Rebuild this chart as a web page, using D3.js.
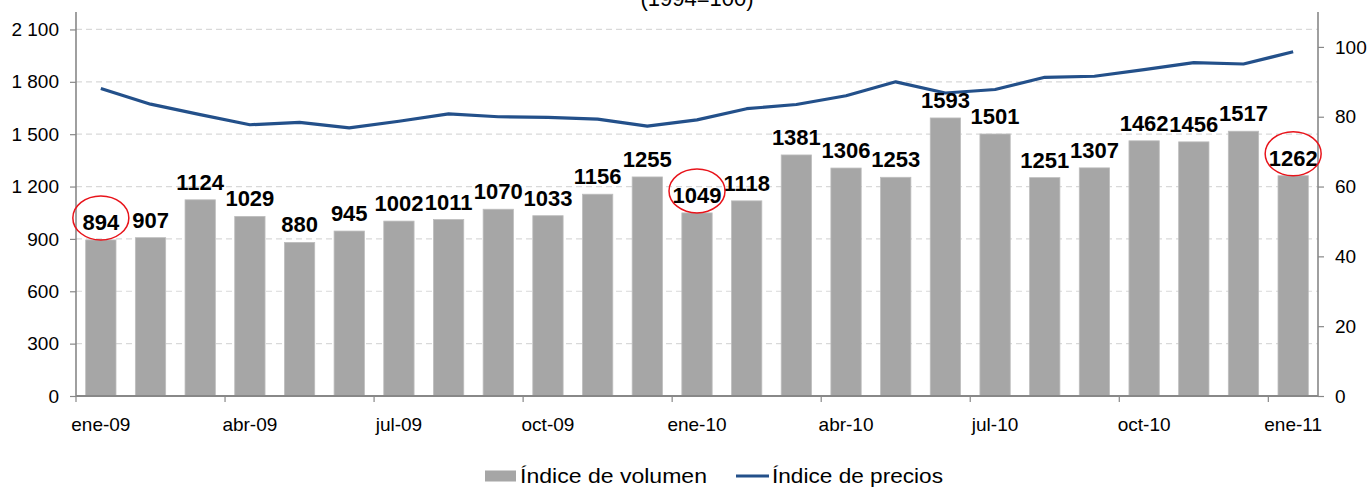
<!DOCTYPE html>
<html>
<head>
<meta charset="utf-8">
<script src="https://cdn.jsdelivr.net/npm/d3@7"></script>
<style>
  body { margin: 0; background: #fff; }
  svg { display: block; font-family: "Liberation Sans", Arial, sans-serif; }
</style>
</head>
<body>
<svg id="chart" width="1371" height="489"></svg>
<script>
// month labels, ene-09 .. ene-11
const months = [
  "ene-09", "feb-09", "mar-09", "abr-09", "may-09", "jun-09", "jul-09", "ago-09", "sep-09",
  "oct-09", "nov-09", "dic-09", "ene-10", "feb-10", "mar-10", "abr-10", "may-10", "jun-10",
  "jul-10", "ago-10", "sep-10", "oct-10", "nov-10", "dic-10", "ene-11"
];
// Índice de volumen (bars, left axis)
const volumen = [
  894, 907, 1124, 1029, 880, 945, 1002, 1011, 1070, 1033, 1156, 1255, 1049,
  1118, 1381, 1306, 1253, 1593, 1501, 1251, 1307, 1462, 1456, 1517, 1262
];
// Índice de precios (line, right axis)
const precios = [
  88.1, 83.6, 80.6, 77.7, 78.4, 76.8, 78.7, 80.8, 80.0, 79.8, 79.3, 77.3, 79.1,
  82.3, 83.5, 86.0, 90.0, 86.8, 87.8, 91.3, 91.6, 93.5, 95.5, 95.1, 98.6
];
const leftTicks = [0, 300, 600, 900, 1200, 1500, 1800, 2100];
const rightTicks = [0, 20, 40, 60, 80, 100];
const xLabels = ["ene-09", "abr-09", "jul-09", "oct-09", "ene-10", "abr-10", "jul-10", "oct-10", "ene-11"];
const circled = ["ene-09", "ene-10", "ene-11"];
const title = "(1994=100)";
const legendNames = ["Índice de volumen", "Índice de precios"];

const svg = d3.select("#chart");
const plotLeft = 76, plotRight = 1318, plotTop = 12, plotBottom = 396;

const x = d3.scaleBand()
  .domain(months)
  .range([plotLeft, plotRight])
  .paddingInner(0.39)
  .paddingOuter(0.195);
const yL = d3.scaleLinear().domain([0, 2200]).range([plotBottom, plotTop]);
const yR = d3.scaleLinear().domain([0, 110]).range([plotBottom, plotTop]);

const fmt = d3.formatLocale({ decimal: ",", thousands: " ", grouping: [3], currency: ["", ""] }).format(",");
const axisColor = "#888888";

// gridlines
svg.append("g")
  .selectAll("line")
  .data(leftTicks.filter(d => d > 0))
  .join("line")
  .attr("x1", plotLeft).attr("x2", plotRight)
  .attr("y1", d => yL(d)).attr("y2", d => yL(d))
  .attr("stroke", "#d9d9d9")
  .attr("stroke-width", 1.2)
  .attr("stroke-dasharray", "6,4");

// bars
svg.append("g")
  .selectAll("rect")
  .data(months)
  .join("rect")
  .attr("x", d => x(d))
  .attr("y", (d, i) => yL(volumen[i]))
  .attr("width", x.bandwidth())
  .attr("height", (d, i) => plotBottom - yL(volumen[i]))
  .attr("fill", "#a6a6a6")
  .attr("stroke", "#bdbdbd")
  .attr("stroke-width", 0.8);

// price line
const line = d3.line()
  .x((d, i) => x(months[i]) + x.bandwidth() / 2)
  .y(d => yR(d));
svg.append("path")
  .datum(precios)
  .attr("d", line)
  .attr("fill", "none")
  .attr("stroke", "#23508a")
  .attr("stroke-width", 3.2)
  .attr("stroke-linejoin", "round");

// left axis
const gL = svg.append("g")
  .attr("transform", `translate(${plotLeft},0)`)
  .call(d3.axisLeft(yL).tickValues(leftTicks).tickFormat(fmt).tickSize(6).tickPadding(11));
gL.select(".domain").remove();
gL.append("line").attr("y1", plotTop).attr("y2", plotBottom).attr("stroke", axisColor).attr("stroke-width", 1.6);

// right axis
const gR = svg.append("g")
  .attr("transform", `translate(${plotRight},0)`)
  .call(d3.axisRight(yR).tickValues(rightTicks).tickSize(6).tickPadding(11));
gR.select(".domain").remove();
gR.append("line").attr("y1", plotTop).attr("y2", plotBottom).attr("stroke", axisColor).attr("stroke-width", 1.6);

[gL, gR].forEach(g => {
  g.selectAll(".tick line").attr("stroke", axisColor).attr("stroke-width", 1.2);
  g.selectAll(".tick text").attr("fill", "#000").style("font-size", "19px")
    .style("font-family", "'Liberation Sans', Arial, sans-serif");
});

// bottom axis: ticks at band boundaries every 3 months, labels centered on bars
const gB = svg.append("g").attr("transform", `translate(0,${plotBottom})`);
gB.append("line").attr("x1", plotLeft).attr("x2", plotRight).attr("stroke", axisColor).attr("stroke-width", 1.8);
gB.selectAll("line.tk")
  .data(xLabels)
  .join("line")
  .attr("class", "tk")
  .attr("x1", d => x(d) + x.bandwidth() / 2 - x.step() / 2)
  .attr("x2", d => x(d) + x.bandwidth() / 2 - x.step() / 2)
  .attr("y1", 0).attr("y2", 6)
  .attr("stroke", axisColor).attr("stroke-width", 1.2);
gB.selectAll("text")
  .data(xLabels)
  .join("text")
  .attr("x", d => x(d) + x.bandwidth() / 2)
  .attr("y", 35)
  .attr("text-anchor", "middle")
  .style("font-size", "19px")
  .text(d => d);

// value labels
const labels = svg.append("g");
labels.selectAll("text")
  .data(months)
  .join("text")
  .attr("x", d => x(d) + x.bandwidth() / 2)
  .attr("y", (d, i) => yL(volumen[i]) - 10)
  .attr("text-anchor", "middle")
  .style("font-size", "22px")
  .style("font-weight", "bold")
  .text((d, i) => volumen[i]);

// red circles around highlighted labels
labels.selectAll("ellipse")
  .data(circled)
  .join("ellipse")
  .attr("cx", d => x(d) + x.bandwidth() / 2)
  .attr("cy", d => yL(volumen[months.indexOf(d)]) - 22)
  .attr("rx", 28)
  .attr("ry", 22)
  .attr("fill", "none")
  .attr("stroke", "#e8141b")
  .attr("stroke-width", 1.5);

// subtitle (clipped at top)
svg.append("text")
  .attr("x", (plotLeft + plotRight) / 2)
  .attr("y", 6)
  .attr("text-anchor", "middle")
  .style("font-size", "22px")
  .text(title);

// legend
const lg = svg.append("g");
lg.append("rect").attr("x", 485).attr("y", 470.5).attr("width", 31).attr("height", 11).attr("fill", "#a6a6a6");
lg.append("text").attr("x", 520).attr("y", 483).style("font-size", "21px")
  .attr("textLength", 187).attr("lengthAdjust", "spacingAndGlyphs").text(legendNames[0]);
lg.append("line").attr("x1", 736).attr("x2", 769).attr("y1", 476).attr("y2", 476)
  .attr("stroke", "#23508a").attr("stroke-width", 3);
lg.append("text").attr("x", 772).attr("y", 483).style("font-size", "21px")
  .attr("textLength", 171).attr("lengthAdjust", "spacingAndGlyphs").text(legendNames[1]);
</script>
</body>
</html>
